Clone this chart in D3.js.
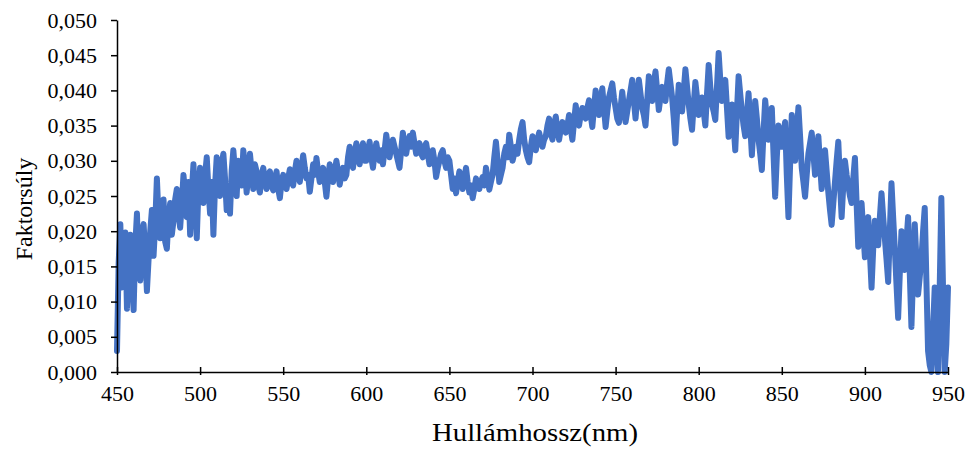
<!DOCTYPE html>
<html>
<head>
<meta charset="utf-8">
<script src="https://cdn.jsdelivr.net/npm/d3@7"></script>
<style>
  body { margin: 0; background: #fff; }
  text { font-family: "Liberation Serif", "Times New Roman", serif; fill: #000; }
</style>
</head>
<body>
<div id="chart"></div>
<script>
// wavelengths (nm), 1 nm steps
const wavelengths = [
  450,451,452,453,454,455,456,457,458,459,460,461,462,463,464,465,466,467,468,469,
  470,471,472,473,474,475,476,477,478,479,480,481,482,483,484,485,486,487,488,489,
  490,491,492,493,494,495,496,497,498,499,500,501,502,503,504,505,506,507,508,509,
  510,511,512,513,514,515,516,517,518,519,520,521,522,523,524,525,526,527,528,529,
  530,531,532,533,534,535,536,537,538,539,540,541,542,543,544,545,546,547,548,549,
  550,551,552,553,554,555,556,557,558,559,560,561,562,563,564,565,566,567,568,569,
  570,571,572,573,574,575,576,577,578,579,580,581,582,583,584,585,586,587,588,589,
  590,591,592,593,594,595,596,597,598,599,600,601,602,603,604,605,606,607,608,609,
  610,611,612,613,614,615,616,617,618,619,620,621,622,623,624,625,626,627,628,629,
  630,631,632,633,634,635,636,637,638,639,640,641,642,643,644,645,646,647,648,649,
  650,651,652,653,654,655,656,657,658,659,660,661,662,663,664,665,666,667,668,669,
  670,671,672,673,674,675,676,677,678,679,680,681,682,683,684,685,686,687,688,689,
  690,691,692,693,694,695,696,697,698,699,700,701,702,703,704,705,706,707,708,709,
  710,711,712,713,714,715,716,717,718,719,720,721,722,723,724,725,726,727,728,729,
  730,731,732,733,734,735,736,737,738,739,740,741,742,743,744,745,746,747,748,749,
  750,751,752,753,754,755,756,757,758,759,760,761,762,763,764,765,766,767,768,769,
  770,771,772,773,774,775,776,777,778,779,780,781,782,783,784,785,786,787,788,789,
  790,791,792,793,794,795,796,797,798,799,800,801,802,803,804,805,806,807,808,809,
  810,811,812,813,814,815,816,817,818,819,820,821,822,823,824,825,826,827,828,829,
  830,831,832,833,834,835,836,837,838,839,840,841,842,843,844,845,846,847,848,849,
  850,851,852,853,854,855,856,857,858,859,860,861,862,863,864,865,866,867,868,869,
  870,871,872,873,874,875,876,877,878,879,880,881,882,883,884,885,886,887,888,889,
  890,891,892,893,894,895,896,897,898,899,900,901,902,903,904,905,906,907,908,909,
  910,911,912,913,914,915,916,917,918,919,920,921,922,923,924,925,926,927,928,929,
  930,931,932,933,934,935,936,937,938,939,940,941,942,943,944,945,946,947,948,949,
  950
];

// factor loadings
const faktorsuly = [
  0.0030,0.0155,0.0210,0.0120,0.0140,0.0198,0.0090,0.0160,0.0195,0.0135, // 450
  0.0088,0.0180,0.0225,0.0150,0.0130,0.0200,0.0210,0.0170,0.0115,0.0160, // 460
  0.0200,0.0230,0.0165,0.0210,0.0275,0.0220,0.0190,0.0215,0.0245,0.0185, // 470
  0.0175,0.0220,0.0240,0.0195,0.0215,0.0245,0.0260,0.0225,0.0205,0.0240, // 480
  0.0280,0.0250,0.0220,0.0270,0.0195,0.0255,0.0295,0.0245,0.0190,0.0260, // 490
  0.0290,0.0265,0.0240,0.0280,0.0305,0.0260,0.0225,0.0270,0.0195,0.0265, // 500
  0.0305,0.0280,0.0250,0.0295,0.0310,0.0275,0.0230,0.0260,0.0225,0.0285, // 510
  0.0315,0.0285,0.0250,0.0300,0.0290,0.0265,0.0315,0.0290,0.0255,0.0280, // 520
  0.0310,0.0285,0.0260,0.0295,0.0285,0.0265,0.0255,0.0280,0.0290,0.0270, // 530
  0.0260,0.0280,0.0285,0.0265,0.0258,0.0275,0.0285,0.0260,0.0247,0.0270, // 540
  0.0280,0.0265,0.0260,0.0275,0.0288,0.0270,0.0265,0.0285,0.0300,0.0280, // 550
  0.0270,0.0290,0.0308,0.0290,0.0275,0.0280,0.0256,0.0275,0.0295,0.0280, // 560
  0.0304,0.0285,0.0270,0.0280,0.0290,0.0270,0.0249,0.0275,0.0295,0.0285, // 570
  0.0270,0.0285,0.0300,0.0285,0.0266,0.0280,0.0290,0.0275,0.0280,0.0305, // 580
  0.0320,0.0300,0.0290,0.0310,0.0325,0.0305,0.0295,0.0315,0.0325,0.0300, // 590
  0.0300,0.0315,0.0327,0.0305,0.0290,0.0310,0.0325,0.0310,0.0300,0.0315, // 600
  0.0295,0.0315,0.0337,0.0320,0.0305,0.0320,0.0330,0.0320,0.0310,0.0300, // 610
  0.0290,0.0315,0.0340,0.0320,0.0310,0.0325,0.0335,0.0320,0.0340,0.0325, // 620
  0.0310,0.0320,0.0325,0.0310,0.0305,0.0320,0.0325,0.0310,0.0295,0.0305, // 630
  0.0315,0.0300,0.0277,0.0290,0.0300,0.0310,0.0315,0.0300,0.0290,0.0305, // 640
  0.0300,0.0280,0.0260,0.0275,0.0254,0.0270,0.0285,0.0275,0.0260,0.0275, // 650
  0.0290,0.0270,0.0255,0.0265,0.0247,0.0260,0.0275,0.0265,0.0260,0.0270, // 660
  0.0277,0.0265,0.0290,0.0275,0.0259,0.0270,0.0280,0.0305,0.0327,0.0300, // 670
  0.0270,0.0280,0.0290,0.0310,0.0320,0.0305,0.0337,0.0320,0.0300,0.0310, // 680
  0.0320,0.0310,0.0330,0.0345,0.0355,0.0330,0.0315,0.0305,0.0298,0.0320, // 690
  0.0335,0.0325,0.0315,0.0330,0.0340,0.0330,0.0320,0.0330,0.0335,0.0350, // 700
  0.0360,0.0340,0.0330,0.0350,0.0363,0.0345,0.0330,0.0345,0.0355,0.0350, // 710
  0.0340,0.0350,0.0365,0.0345,0.0330,0.0355,0.0379,0.0360,0.0350,0.0365, // 720
  0.0375,0.0365,0.0360,0.0375,0.0386,0.0365,0.0348,0.0375,0.0400,0.0380, // 730
  0.0365,0.0385,0.0403,0.0375,0.0348,0.0370,0.0390,0.0400,0.0410,0.0390, // 740
  0.0375,0.0360,0.0354,0.0375,0.0398,0.0375,0.0355,0.0370,0.0385,0.0400, // 750
  0.0415,0.0385,0.0360,0.0390,0.0415,0.0395,0.0375,0.0365,0.0350,0.0385, // 760
  0.0420,0.0405,0.0385,0.0410,0.0427,0.0400,0.0372,0.0390,0.0405,0.0395, // 770
  0.0385,0.0410,0.0430,0.0410,0.0390,0.0360,0.0325,0.0370,0.0408,0.0390, // 780
  0.0370,0.0400,0.0430,0.0405,0.0380,0.0360,0.0344,0.0380,0.0412,0.0390, // 790
  0.0365,0.0380,0.0390,0.0370,0.0350,0.0395,0.0436,0.0405,0.0380,0.0370, // 800
  0.0358,0.0405,0.0453,0.0415,0.0385,0.0400,0.0415,0.0375,0.0334,0.0360, // 810
  0.0380,0.0350,0.0315,0.0370,0.0420,0.0395,0.0370,0.0350,0.0335,0.0365, // 820
  0.0396,0.0350,0.0308,0.0350,0.0385,0.0360,0.0330,0.0310,0.0287,0.0340, // 830
  0.0386,0.0360,0.0330,0.0350,0.0375,0.0310,0.0249,0.0305,0.0350,0.0335, // 840
  0.0320,0.0340,0.0355,0.0280,0.0220,0.0295,0.0365,0.0330,0.0300,0.0340, // 850
  0.0376,0.0335,0.0290,0.0270,0.0249,0.0280,0.0310,0.0325,0.0340,0.0310, // 860
  0.0280,0.0310,0.0335,0.0295,0.0260,0.0290,0.0315,0.0285,0.0255,0.0230, // 870
  0.0209,0.0240,0.0270,0.0300,0.0327,0.0270,0.0220,0.0265,0.0300,0.0280, // 880
  0.0265,0.0250,0.0240,0.0275,0.0304,0.0240,0.0178,0.0210,0.0240,0.0200, // 890
  0.0163,0.0195,0.0220,0.0170,0.0120,0.0175,0.0215,0.0195,0.0180,0.0220, // 900
  0.0254,0.0220,0.0190,0.0160,0.0128,0.0200,0.0268,0.0220,0.0175,0.0125, // 910
  0.0077,0.0140,0.0200,0.0170,0.0145,0.0185,0.0220,0.0140,0.0064,0.0140, // 920
  0.0210,0.0160,0.0110,0.0135,0.0160,0.0200,0.0233,0.0130,0.0030,0.0010, // 930
  0.0000,0.0060,0.0120,0.0050,0.0000,0.0120,0.0247,0.0120,0.0000,0.0040, // 940
  0.0120                                                                 // 950
];

const xTicks = [450, 500, 550, 600, 650, 700, 750, 800, 850, 900, 950];
const yTicks = [0, 0.005, 0.01, 0.015, 0.02, 0.025, 0.03, 0.035, 0.04, 0.045, 0.05];

const xTitle = "Hullámhossz(nm)";
const yTitle = "Faktorsúly";

const width = 970, height = 452;
const margin = ({top: 20, right: 22, bottom: 80, left: 117});

const data = wavelengths.map((w, i) => [w, faktorsuly[i]]);

let x = d3.scaleLinear()
    .domain([450, 950])
    .range([margin.left, width - margin.right]);

let y = d3.scaleLinear()
    .domain([0, 0.05])
    .range([height - margin.bottom, margin.top]);

const fmt = d => d3.format(".3f")(d).replace(".", ",");

let xAxis = d3.axisBottom(x).tickValues(xTicks).tickSizeInner(3).tickSizeOuter(0).tickPadding(10);
let yAxis = d3.axisLeft(y).tickValues(yTicks).tickFormat(fmt).tickSizeInner(6).tickSizeOuter(0).tickPadding(14);

let line = d3.line()
    .x(d => x(d[0]))
    .y(d => y(d[1]));

document.addEventListener("DOMContentLoaded", function() {

  let svg = d3.select("#chart").append("svg")
    .attr("width", width).attr("height", height);

  // the spectrum
  svg.append("path")
    .datum(data)
    .attr("fill", "none")
    .attr("stroke", "#4472C4")
    .attr("stroke-width", 6)
    .attr("stroke-linejoin", "round")
    .attr("stroke-linecap", "round")
    .attr("d", line);

  let gx = svg.append("g")
    .attr("transform", `translate(0,${height - margin.bottom})`)
    .call(xAxis);
  // ticks cross the axis
  gx.selectAll(".tick line").attr("y1", -5);

  let gy = svg.append("g")
    .attr("transform", `translate(${margin.left},0)`)
    .call(yAxis);

  svg.selectAll(".domain").attr("stroke", "#000").attr("stroke-width", 1.5);
  svg.selectAll(".tick line").attr("stroke", "#000").attr("stroke-width", 1.5);
  svg.selectAll(".tick text")
    .attr("font-family", "Liberation Serif, Times New Roman, serif")
    .attr("font-size", 22)
    .attr("fill", "#000");

  // axis titles
  svg.append("text")
    .attr("text-anchor", "middle")
    .attr("x", 535)
    .attr("y", height - 11)
    .attr("font-size", 26)
    .attr("textLength", 206)
    .attr("lengthAdjust", "spacingAndGlyphs")
    .text(xTitle);

  svg.append("text")
    .attr("text-anchor", "middle")
    .attr("transform", "translate(32,209) rotate(-90)")
    .attr("font-size", 24)
    .text(yTitle);
});
</script>
</body>
</html>
